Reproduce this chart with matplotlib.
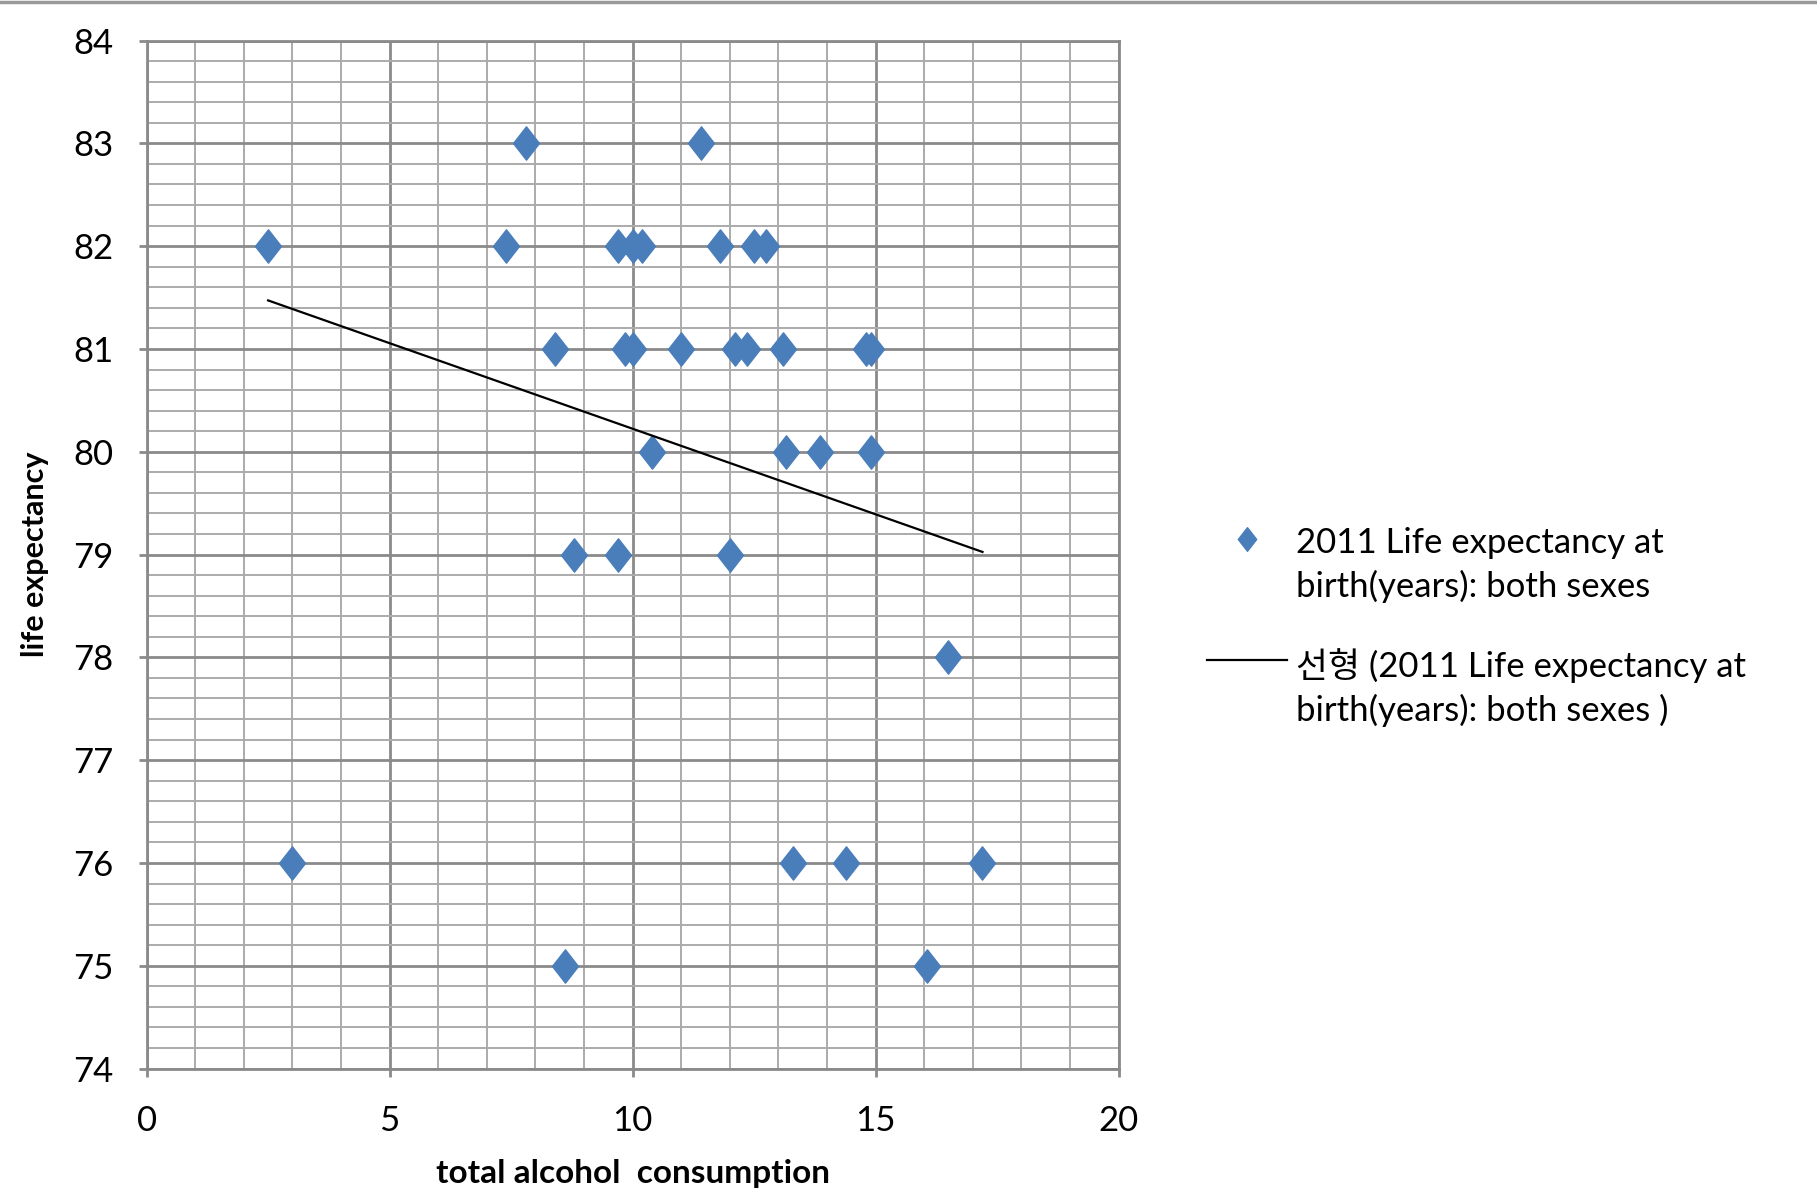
import numpy as np
import matplotlib
matplotlib.use("Agg")
import matplotlib.pyplot as plt
from matplotlib.path import Path
from matplotlib.lines import Line2D
from matplotlib.ticker import MultipleLocator

plt.rcParams['font.family'] = ['Lato', 'Noto Sans CJK KR', 'DejaVu Sans']

# total alcohol consumption vs. 2011 life expectancy (both sexes)
alcohol = [7.8, 11.4,
           2.5, 7.4, 9.7, 10.0, 10.2, 11.8, 12.5, 12.75,
           8.4, 9.85, 10.0, 11.0, 12.1, 12.35, 13.1, 14.8, 14.9,
           10.4, 13.15, 13.85, 14.9,
           8.8, 9.7, 12.0,
           16.5,
           3.0, 13.3, 14.4, 17.2,
           8.6, 16.05]
life = [83, 83,
        82, 82, 82, 82, 82, 82, 82, 82,
        81, 81, 81, 81, 81, 81, 81, 81, 81,
        80, 80, 80, 80,
        79, 79, 79,
        78,
        76, 76, 76, 76,
        75, 75]

series_label = "2011 Life expectancy at\nbirth(years): both sexes"
trend_label = "선형 (2011 Life expectancy at\nbirth(years): both sexes )"

blue = "#4a7ebb"
diamond = Path([(0, 1), (0.78, 0), (0, -1), (-0.78, 0), (0, 1)],
               [Path.MOVETO, Path.LINETO, Path.LINETO, Path.LINETO, Path.CLOSEPOLY])

fig = plt.figure(figsize=(18.17, 11.93), dpi=100)
ax = fig.add_axes([0.0807, 0.1043, 0.5349, 0.8617])

ax.plot(alcohol, life, linestyle="none", marker=diamond, markersize=24,
        color=blue, label=series_label, zorder=3)

# linear trend line (least squares), over the data range
x = np.array(alcohol)
slope, icpt = np.polyfit(x, np.array(life), 1)
xt = np.array([x.min(), x.max()])
ax.plot(xt, slope * xt + icpt, color="black", linewidth=1.6,
        label=trend_label, zorder=4)

ax.set_xlim(0, 20)
ax.set_ylim(74, 84)
ax.xaxis.set_major_locator(MultipleLocator(5))
ax.xaxis.set_minor_locator(MultipleLocator(1))
ax.yaxis.set_major_locator(MultipleLocator(1))
ax.yaxis.set_minor_locator(MultipleLocator(0.2))

ax.grid(which="major", color="#8a8a8a", linewidth=2.0)
ax.grid(which="minor", color="#ababab", linewidth=1.4)
ax.set_axisbelow(True)
for s in ax.spines.values():
    s.set_color("#8a8a8a")
    s.set_linewidth(2.0)

ax.tick_params(which="major", direction="out", length=6, width=2,
               color="#8a8a8a", labelsize=25)
ax.tick_params(axis="y", which="major", pad=18)
ax.tick_params(axis="x", which="major", pad=20)
ax.tick_params(which="minor", length=0)

ax.set_xlabel("total alcohol  consumption", fontsize=24, fontweight="bold")
ax.set_ylabel("life expectancy", fontsize=22, fontweight="bold")
ax.xaxis.set_label_coords(0.5, -0.088)
ax.yaxis.set_label_coords(-0.10, 0.5)

leg = ax.legend(loc="upper left", bbox_to_anchor=(0.655, 0.573),
                bbox_transform=fig.transFigure, frameon=False, fontsize=25,
                borderpad=0, handlelength=2.3, handletextpad=0.25,
                labelspacing=1.3)
for col in leg._legend_handle_box.get_children():
    for item in col.get_children():
        item.align = "top"
for t in leg.get_texts():
    t.set_linespacing(1.4)
leg.legend_handles[0].set_markersize(17)

# thin rule along the top of the image
fig.add_artist(Line2D([0, 1], [0.998, 0.998], transform=fig.transFigure,
                      color="#9a9a9a", linewidth=2.5))

fig.savefig("out.png", dpi=100)
